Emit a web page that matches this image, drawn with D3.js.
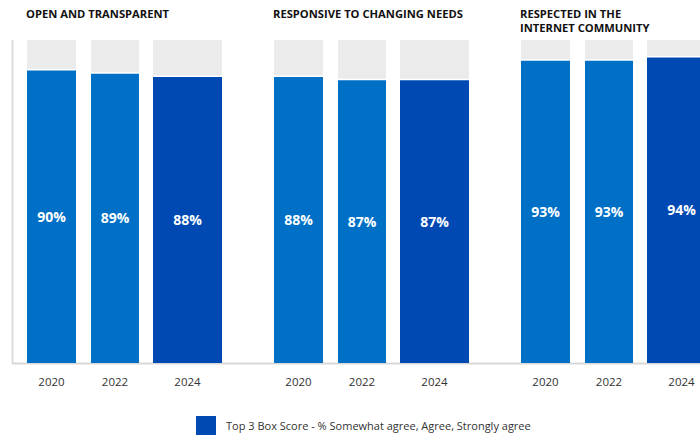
<!DOCTYPE html>
<html><head><meta charset="utf-8">
<script src="https://cdn.jsdelivr.net/npm/d3@7"></script>
<style>body{margin:0;background:#fff}svg{display:block}</style>
</head><body>
<svg id="c" width="700" height="435"></svg>
<script>
const categories = ["Open and transparent", "Responsive to changing needs", "Respected in the Internet community"];
const titles = [["OPEN AND TRANSPARENT"], ["RESPONSIVE TO CHANGING NEEDS"], ["RESPECTED IN THE", "INTERNET COMMUNITY"]];
const years = ["2020", "2022", "2024"];
const values = [
  [90, 89, 88],
  [88, 87, 87],
  [93, 93, 94]
];
const legendLabel = "Top 3 Box Score - % Somewhat agree, Agree, Strongly agree";

const svg = d3.select("#c");
const baseY = 363, topY = 38;
const y = d3.scaleLinear().domain([0, 100]).range([baseY, topY]);
const gx = d3.scaleBand().domain(categories).range([27, 27 + 3 * 247]);
const offX = d3.scaleOrdinal(years, [0, 64, 126]);
const barW = d3.scaleOrdinal(years, [49, 48, 69]);
const color = d3.scaleOrdinal(years, ["#0070c7", "#0070c7", "#0049b3"]);
const font = "'Open Sans', 'Noto Sans', sans-serif";

// axes lines
svg.append("line").attr("x1", 12.5).attr("x2", 12.5).attr("y1", 40).attr("y2", baseY)
  .attr("stroke", "#dcdcdc").attr("stroke-width", 2);
svg.append("line").attr("x1", 12).attr("x2", 700).attr("y1", baseY + 0.5).attr("y2", baseY + 0.5)
  .attr("stroke", "#d8d8d8").attr("stroke-width", 2);

categories.forEach((cat, i) => {
  const g = svg.append("g");
  const x0 = gx(cat);
  // title
  const t = g.append("text").attr("x", x0 - 2).attr("y", 18)
    .attr("font-family", font).attr("font-weight", 700).attr("font-size", 11.2)
    .attr("fill", "#111");
  titles[i].forEach((line, k) => t.append("tspan").attr("x", x0 - 1).attr("dy", k ? 13.5 : 0).text(line));

  years.forEach((yr, j) => {
    const v = values[i][j];
    const bx = x0 + offX(yr), bw = barW(yr);
    // remainder (gray)
    g.append("rect").attr("x", bx).attr("y", y(100) + 2).attr("width", bw)
      .attr("height", y(v) - y(100) - 3.5).attr("fill", "#ebebeb");
    // value bar
    g.append("rect").attr("x", bx).attr("y", y(v)).attr("width", bw)
      .attr("height", baseY - y(v)).attr("fill", color(yr));
    g.append("text").attr("x", bx + bw / 2).attr("y", (y(v) + baseY) / 2)
      .attr("dy", "0.35em").attr("text-anchor", "middle")
      .attr("font-family", font).attr("font-weight", 700).attr("font-size", 14)
      .attr("fill", "#fff").text(v + "%");
    g.append("text").attr("x", bx + bw / 2).attr("y", 382)
      .attr("dy", "0.35em").attr("text-anchor", "middle")
      .attr("font-family", font).attr("font-size", 11.5)
      .attr("fill", "#333").text(yr);
  });
});

// legend
svg.append("rect").attr("x", 196).attr("y", 416).attr("width", 20).attr("height", 20).attr("fill", "#0049b3");
svg.append("text").attr("x", 226).attr("y", 426).attr("dy", "0.35em")
  .attr("font-family", font).attr("font-size", 11).attr("fill", "#333").text(legendLabel);
</script>
</body></html>
